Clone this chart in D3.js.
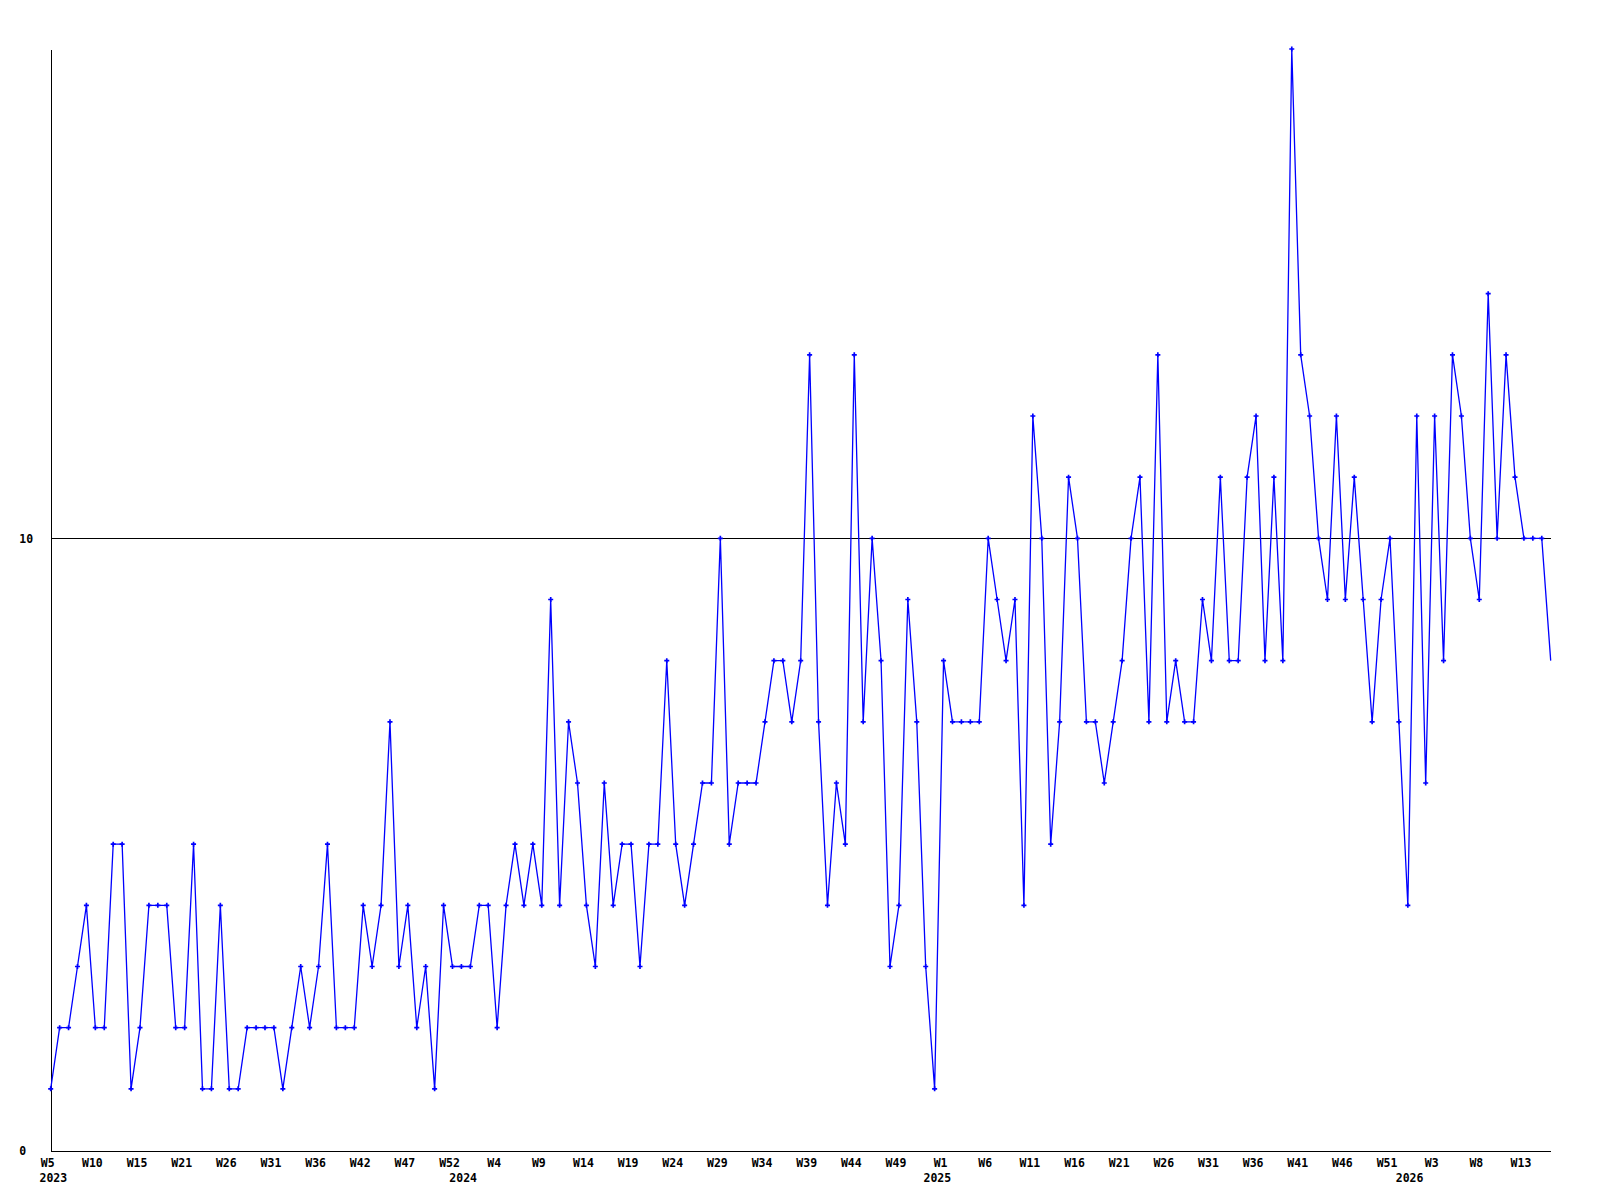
<!DOCTYPE html>
<html>
<head>
<meta charset="utf-8">
<script src="https://cdn.jsdelivr.net/npm/d3@7"></script>
<style>
  html, body { margin: 0; padding: 0; background: #ffffff; }
  svg { display: block; }
  text { font-family: "DejaVu Sans Mono", "Liberation Mono", monospace; font-weight: bold; font-size: 11.5px; fill: #000; }
</style>
</head>
<body>
<svg id="chart" width="1600" height="1200"></svg>
<script>
// ---- data (one value per week, starting W5 2023) ----
const weeklyCounts = [
  1,2,2,3,4,2,2,5,5,1, 2,4,4,4,2,2,5,1,1,4, 1,1,2,2,2,2,1,2,3,2,
  3,5,2,2,2,4,3,4,7,3, 4,2,3,1,4,3,3,3,4,4, 2,4,5,4,5,4,9,4,
  7,6,4,3,6,4,5,5,3,5, 5,8,5,4,5,6,6,10,5,6, 6,6,7,8,8,7,8,13,7,
  4,6,5,13,7,10,8,3,4,9, 7,3,1,8,7,7,7,7,10,9, 8,9,4,12,10,5,7,11,
  10,7,7,6,7,8,10,11,7,13, 7,8,7,7,9,8,11,8,8,11, 12,8,11,8,18,13,12,
  10,9,12,9,11,9,7,9,10,7, 4,12,6,12,8,13,12,10,9,14, 10,13,11,10,10,10,8
];
// x tick labels, one every 5 weeks
const weekTickLabels = ["W5","W10","W15","W21","W26","W31","W36","W42","W47","W52",
  "W4","W9","W14","W19","W24","W29","W34","W39","W44","W49",
  "W1","W6","W11","W16","W21","W26","W31","W36","W41","W46","W51",
  "W3","W8","W13"];
const tickStepWeeks = 5;
const yearLabels = ["2023","2024","2025","2026"];
const yearWeekIndex = [0.8, 46.7, 99.8, 152.7];
const yTickValues = [0, 10];
const yMax = 18;

// ---- layout ----
const plotLeft = 50.7, plotRight = 1550.7, plotTop = 49, plotBottom = 1150;
const svg = d3.select("#chart");

const x = d3.scaleLinear().domain([0, weeklyCounts.length - 1]).range([plotLeft, plotRight]);
const y = d3.scaleLinear().domain([0, yMax]).range([plotBottom, plotTop]);
const halfStep = (x(1) - x(0)) / 2;

// gridline at 10
svg.append("g").selectAll("line")
  .data(yTickValues.filter(v => v > 0))
  .join("line")
  .attr("x1", plotLeft).attr("x2", plotRight + 0.3)
  .attr("y1", d => Math.round(y(d)) + 0.5).attr("y2", d => Math.round(y(d)) + 0.5)
  .attr("stroke", "#000").attr("stroke-width", 1).attr("shape-rendering", "crispEdges");

// y axis
const yAxis = d3.axisLeft(y).tickValues(yTickValues).tickSize(0).tickSizeOuter(0).tickFormat(d3.format("d"));
const gy = svg.append("g").attr("transform", `translate(${Math.round(plotLeft) - 0.5},0)`).call(yAxis);
gy.attr("font-family", null).attr("font-size", null);
gy.select(".domain").attr("stroke", "#000").attr("shape-rendering", "crispEdges");
gy.selectAll(".tick text")
  .attr("text-anchor", "start")
  .attr("x", 19.5 - plotLeft)
  .attr("dy", "0.36em");

// x axis
const tickIdx = weekTickLabels.map((_, k) => k * tickStepWeeks);
const xAxis = d3.axisBottom(x).tickValues(tickIdx).tickSize(0).tickSizeOuter(0)
  .tickFormat((d, i) => weekTickLabels[i]);
const gx = svg.append("g").attr("transform", `translate(0,${Math.round(plotBottom) + 0.5})`).call(xAxis);
gx.attr("font-family", null).attr("font-size", null);
gx.select(".domain").attr("stroke", "#000").attr("shape-rendering", "crispEdges");
gx.selectAll(".tick text")
  .attr("x", -halfStep + 1)
  .attr("y", 16)
  .attr("dy", 0);

// year labels
svg.append("g").selectAll("text")
  .data(yearLabels)
  .join("text")
  .attr("x", (d, i) => x(yearWeekIndex[i]) - halfStep)
  .attr("y", 1181.5)
  .attr("text-anchor", "middle")
  .text(d => d);

// line
const line = d3.line().x((d, i) => x(i)).y(d => y(d));
svg.append("path")
  .datum(weeklyCounts)
  .attr("d", line)
  .attr("fill", "none")
  .attr("stroke", "#0000ff")
  .attr("stroke-width", 1.3);

// markers (the last, still-open week has none)
const marker = d3.symbol(d3.symbolCross, 14);
svg.append("g").selectAll("path")
  .data(weeklyCounts.slice(0, -1))
  .join("path")
  .attr("transform", (d, i) => `translate(${x(i)},${y(d)})`)
  .attr("d", marker)
  .attr("fill", "#0000ff");
</script>
</body>
</html>
